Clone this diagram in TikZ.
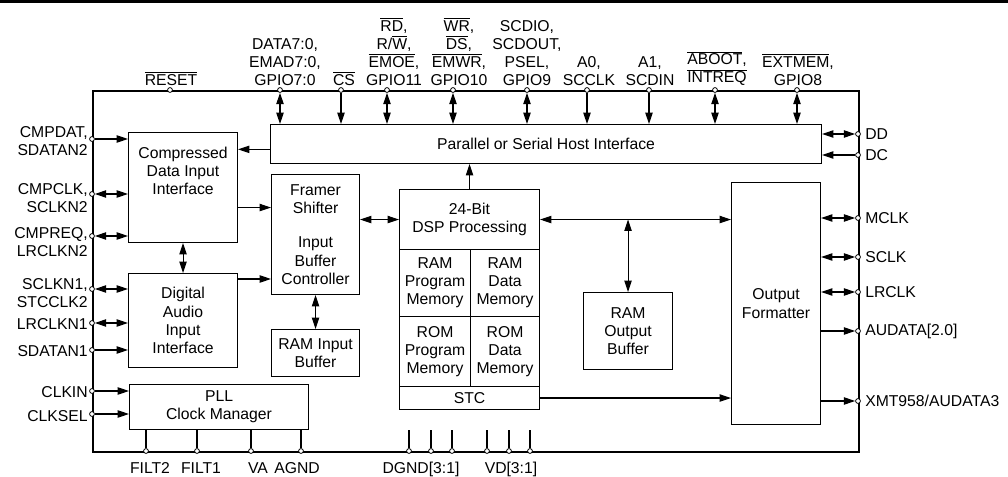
\documentclass[tikz,border=0pt]{standalone}
\usepackage{fontspec}
\setmainfont{Liberation Sans}
\usetikzlibrary{arrows.meta,positioning,calc}
\newcommand{\ovl}[1]{$\overline{\mbox{#1}}$}
\newcommand{\lblfont}{\fontsize{11.8pt}{13.6pt}\selectfont}
\tikzset{
  chip/.style={draw,line width=1.6pt,inner sep=0pt,anchor=north west},
  blk/.style={draw,line width=0.8pt,inner sep=0pt,align=center,anchor=north west},
  sz/.style 2 args={minimum width=#1*0.75pt,minimum height=#2*0.75pt},
  txt/.style={inner sep=0pt,align=center},
  pad/.style={circle,draw,fill=white,line width=0.6pt,inner sep=0pt,minimum size=3.6pt},
  flow/.style={-{Triangle[length=8.5pt,width=5.5pt]},line width=0.8pt},
  flowb/.style={{Triangle[length=8.5pt,width=5.5pt]}-{Triangle[length=8.5pt,width=5.5pt]},line width=0.8pt},
  wire/.style={line width=0.8pt},
  % --- pin labels round the package edge ---
  toplab/.style={txt,anchor=south},
  leftlab/.style={txt,align=right,anchor=east},
  rightlab/.style={txt,align=left,anchor=west},
  botlab/.style={txt,anchor=base},
}

\begin{document}
\begin{tikzpicture}[x=0.75pt,y=-0.75pt,font=\lblfont]
  \useasboundingbox (0,0) rectangle (1008,477);
  \fill (0,0) rectangle (1008,3.5);
  \node[chip,sz={766}{361}] (chip) at (92,90) {};
  % blocks
  \node[blk,sz={551}{39}] (host) at (270,124) {Parallel or Serial Host Interface};
  \node[blk,sz={109}{110}] (cdi) at (128,132) {};
  \node[txt,below=11pt of cdi.north] {Compressed\\Data Input\\Interface};
  \node[blk,sz={109}{94}] (dai) at (128,273) {Digital\\Audio\\Input\\Interface};
  \node[blk,sz={179}{45}] (pll) at (129,384) {PLL\\Clock Manager};
  \node[blk,sz={88}{120}] (fsb) at (271,174) {Framer\\Shifter\\[12pt]Input\\Buffer\\Controller};
  \node[blk,sz={88}{47}] (rib) at (271,329) {RAM Input\\Buffer};
  \node[blk,sz={140}{60}] (dsp) at (399,189) {24-Bit\\DSP Processing};
  \node[blk,sz={71}{67}] (rampm) at (399,249) {RAM\\Program\\Memory};
  \node[blk,sz={69}{67}] (ramdm) at (470,249) {RAM\\Data\\Memory};
  \node[blk,sz={71}{70}] (rompm) at (399,316) {ROM\\Program\\Memory};
  \node[blk,sz={69}{70}] (romdm) at (470,316) {ROM\\Data\\Memory};
  \node[blk,sz={140}{23}] (stc) at (399,386) {STC};
  \node[blk,sz={89}{77}] (rob) at (583,292) {RAM\\Output\\Buffer};
  \node[blk,sz={89}{242}] (of) at (731,182) {Output\\Formatter};
  % inner connectors
  \draw[flow] ([yshift=-4pt]host.west) -- ([yshift=-4pt]host.west -| cdi.east);
  \draw[flow] ([yshift=-15pt]cdi.east) -- ([yshift=-15pt]cdi.east -| fsb.west);
  \draw[flow] ([yshift=-4.5pt]dai.north east) -- ([yshift=-4.5pt]dai.north east -| fsb.west);
  \draw[flowb] (cdi.south) -- (dai.north);
  \draw[flowb] (fsb.south) -- (rib.north);
  \draw[flowb] (dsp.west -| fsb.east) -- (dsp.west);
  \draw[flow] (dsp.north) -- (dsp.north |- host.south);
  \draw[flowb] (dsp.east) -- (dsp.east -| of.west);
  \draw[flowb] (rob.north |- dsp.east) -- (rob.north);
  \draw[flow] (stc.east) -- (stc.east -| of.west);
  % top edge
  \foreach \n/\x in {reset/170,data/280,cs/341,rd/387,wr/453,psel/527,a0/587,a1/649,aboot/715,extmem/797}
    \node[pad] (p-\n) at (\x,90) {};
  \foreach \n/\s in {data/flowb,cs/flow,rd/flowb,wr/flowb,psel/flowb,a0/flow,a1/flow,aboot/flowb,extmem/flowb}
    \draw[\s] (p-\n) -- (p-\n |- host.north);
  \node[toplab] at (171,86) {\ovl{RESET}};
  \node[toplab] at (285,86) {DATA7:0,\\EMAD7:0,\\GPIO7:0};
  \node[toplab] at (344,86) {\ovl{CS}};
  \node[toplab] at (394,86) {\ovl{RD},\\R/\ovl{W},\\\ovl{EMOE},\\GPIO11};
  \node[toplab] at (459,86) {\ovl{WR},\\\ovl{DS},\\\ovl{EMWR},\\GPIO10};
  \node[toplab] at (527,86) {SCDIO,\\SCDOUT,\\PSEL,\\GPIO9};
  \node[toplab] at (589,86) {A0,\\SCCLK};
  \node[toplab] at (650,86) {A1,\\SCDIN};
  \node[toplab] at (717,86) {\ovl{ABOOT},\\\ovl{INTREQ}};
  \node[toplab] at (798,86) {\ovl{EXTMEM},\\GPIO8};
  % left edge
  \foreach \n/\y in {cmpdat/139,cmpclk/194,cmpreq/236,sclkn1/289,lrclkn1/323,sdatan1/350,clkin/391,clksel/414}
    \node[pad] (p-\n) at (92,\y) {};
  \foreach \n/\s/\b in {cmpdat/flow/cdi,cmpclk/flowb/cdi,cmpreq/flowb/cdi,sclkn1/flowb/dai,
      lrclkn1/flowb/dai,sdatan1/flow/dai,clkin/flow/pll,clksel/flow/pll}
    \draw[\s] (p-\n) -- (p-\n -| \b.west);
  \foreach \y/\lab in {141/{CMPDAT,\\SDATAN2},198/{CMPCLK,\\SCLKN2},242/{CMPREQ,\\LRCLKN2},
      293/{SCLKN1,\\STCCLK2},324/LRCLKN1,351/SDATAN1,392/CLKIN,416/CLKSEL}
    \node[leftlab] at (88,\y) {\lab};
  % right edge
  \foreach \n/\y/\lab in {dd/134/DD,dc/155/DC,mclk/218/MCLK,sclk/257/SCLK,lrclk/292/LRCLK,
      audata/331/{AUDATA[2.0]},xmt/401/{XMT958/AUDATA3}}
    {\node[pad] (p-\n) at (858,\y) {};
     \node[rightlab] at (865,\y) {\lab};}
  \foreach \n/\s/\b in {dd/flowb/host,dc/flow/host,mclk/flowb/of,sclk/flowb/of,lrclk/flowb/of}
    \draw[\s] (p-\n) -- (p-\n -| \b.east);
  \foreach \n in {audata,xmt}
    \draw[flow] (p-\n -| of.east) -- (p-\n);
  % bottom edge
  \foreach \n/\x in {filt2/146,filt1/197,va/251,agnd/301,dg1/409,dg2/431,dg3/452,vd1/487,vd2/509,vd3/530}
    {\node[pad] (p-\n) at (\x,451) {};
     \draw[wire] (p-\n) -- (p-\n |- pll.south);}
  \foreach \x/\lab in {150/FILT2,201/FILT1,258/VA,297/AGND,421/{DGND[3:1]},511/{VD[3:1]}}
    \node[botlab] at (\x,473.5) {\lab};
\end{tikzpicture}
\end{document}
